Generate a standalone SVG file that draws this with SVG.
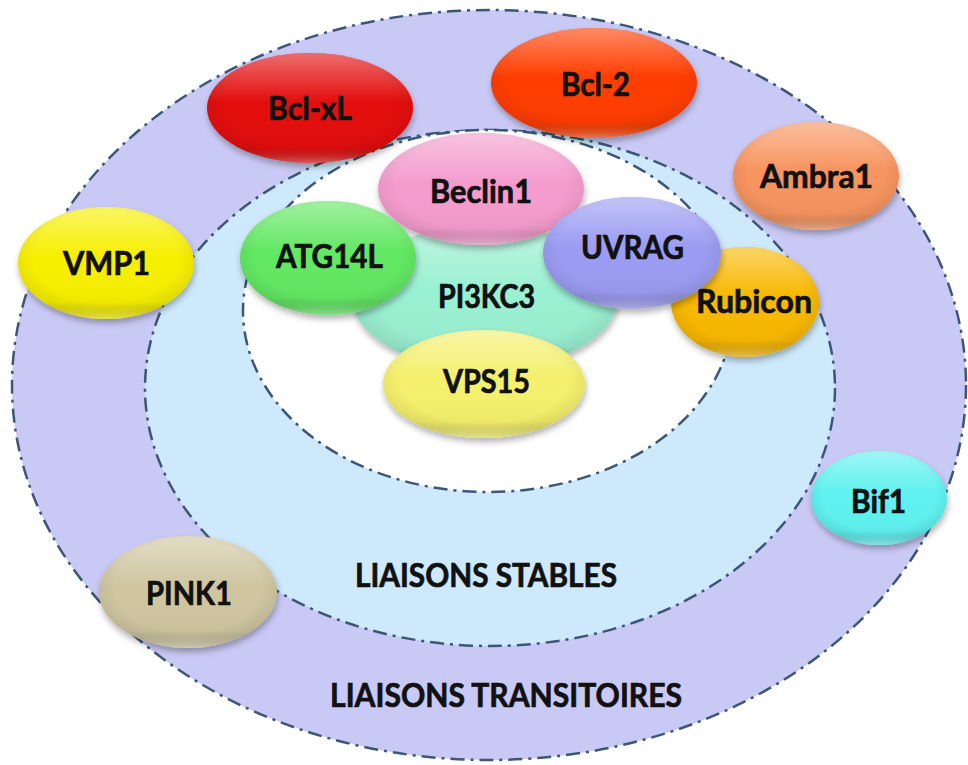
<svg xmlns="http://www.w3.org/2000/svg" width="968" height="765" viewBox="0 0 968 765">
<defs>
<style>
.ring{stroke:#3d5675;stroke-width:2.5;stroke-dasharray:14 6 3 6;}
.lbl{font-family:Lato,Carlito,"Liberation Sans",sans-serif;font-weight:700;font-size:32px;fill:#111;stroke:#111;stroke-width:0.7;text-anchor:middle;}
.zone{font-family:Lato,Carlito,"Liberation Sans",sans-serif;font-weight:700;font-size:32px;fill:#111;stroke:#111;stroke-width:0.7;text-anchor:middle;}
.node{filter:url(#shadow);}
.shine{fill:url(#shine);}
.rim{fill:url(#rim);}
</style>
<filter id="shadow" x="-20%" y="-20%" width="140%" height="150%">
<feDropShadow dx="1" dy="4" stdDeviation="3" flood-color="#000" flood-opacity="0.3"/>
</filter>
<linearGradient id="shine" x1="0" y1="0" x2="0" y2="1">
<stop offset="0" stop-color="#fff" stop-opacity="0.4"/>
<stop offset="0.45" stop-color="#fff" stop-opacity="0"/>
<stop offset="0.85" stop-color="#000" stop-opacity="0.03"/>
<stop offset="1" stop-color="#fff" stop-opacity="0.35"/>
</linearGradient>
<radialGradient id="rim" cx="0.5" cy="0.45" r="0.55">
<stop offset="0.75" stop-color="#000" stop-opacity="0"/>
<stop offset="1" stop-color="#000" stop-opacity="0.08"/>
</radialGradient>
</defs>
<rect width="968" height="765" fill="#fff"/>
<g id="zones">
<ellipse class="ring" cx="489" cy="385" rx="477" ry="375" fill="#c9c9f5"/>
<ellipse class="ring" cx="490" cy="388" rx="345" ry="258" fill="#cde9fb"/>
<ellipse class="ring" cx="488" cy="311" rx="245" ry="181" fill="#fff"/>
<text class="zone" x="486" y="587" textLength="262" lengthAdjust="spacingAndGlyphs">LIAISONS STABLES</text>
<text class="zone" x="506" y="707" textLength="352" lengthAdjust="spacingAndGlyphs">LIAISONS TRANSITOIRES</text>
</g>
<g id="connectors"></g>
<g id="bclxl">
<ellipse class="node" cx="310" cy="108" rx="103" ry="55" fill="#e30a0a"/>
<ellipse class="shine" cx="310" cy="108" rx="103" ry="55"/><ellipse class="rim" cx="310" cy="108" rx="103" ry="55"/>
<text class="lbl" x="310" y="120" textLength="84" lengthAdjust="spacingAndGlyphs">Bcl-xL</text>
</g>
<g id="bcl2">
<ellipse class="node" cx="594" cy="83" rx="103" ry="55" fill="#ff3d00"/>
<ellipse class="shine" cx="594" cy="83" rx="103" ry="55"/><ellipse class="rim" cx="594" cy="83" rx="103" ry="55"/>
<text class="lbl" x="595.5" y="96" textLength="69" lengthAdjust="spacingAndGlyphs">Bcl-2</text>
</g>
<g id="ambra1">
<ellipse class="node" cx="816" cy="176" rx="83" ry="54" fill="#f7945e"/>
<ellipse class="shine" cx="816" cy="176" rx="83" ry="54"/><ellipse class="rim" cx="816" cy="176" rx="83" ry="54"/>
<text class="lbl" x="816.5" y="188" textLength="113" lengthAdjust="spacingAndGlyphs">Ambra1</text>
</g>
<g id="vmp1">
<ellipse class="node" cx="106" cy="263" rx="88" ry="56" fill="#f7ef00"/>
<ellipse class="shine" cx="106" cy="263" rx="88" ry="56"/><ellipse class="rim" cx="106" cy="263" rx="88" ry="56"/>
<text class="lbl" x="106.5" y="275" textLength="87" lengthAdjust="spacingAndGlyphs">VMP1</text>
</g>
<g id="pink1">
<ellipse class="node" cx="188" cy="592" rx="89" ry="56" fill="#cfc6a0"/>
<ellipse class="shine" cx="188" cy="592" rx="89" ry="56"/><ellipse class="rim" cx="188" cy="592" rx="89" ry="56"/>
<text class="lbl" x="189" y="605" textLength="86" lengthAdjust="spacingAndGlyphs">PINK1</text>
</g>
<g id="bif1">
<ellipse class="node" cx="879" cy="498" rx="68" ry="47" fill="#5ff2f0"/>
<ellipse class="shine" cx="879" cy="498" rx="68" ry="47"/><ellipse class="rim" cx="879" cy="498" rx="68" ry="47"/>
<text class="lbl" x="878.5" y="513" textLength="55" lengthAdjust="spacingAndGlyphs">Bif1</text>
</g>
<g id="pi3kc3">
<ellipse class="node" cx="485" cy="297" rx="133" ry="72" fill="#9af0d2"/>
<ellipse class="shine" cx="485" cy="297" rx="133" ry="72"/><ellipse class="rim" cx="485" cy="297" rx="133" ry="72"/>
<text class="lbl" x="486.5" y="308" textLength="97" lengthAdjust="spacingAndGlyphs">PI3KC3</text>
</g>
<g id="beclin1">
<ellipse class="node" cx="481" cy="189" rx="103" ry="56" fill="#f59ccd"/>
<ellipse class="shine" cx="481" cy="189" rx="103" ry="56"/><ellipse class="rim" cx="481" cy="189" rx="103" ry="56"/>
<text class="lbl" x="481" y="203" textLength="102" lengthAdjust="spacingAndGlyphs">Beclin1</text>
</g>
<g id="atg14l">
<ellipse class="node" cx="328" cy="258" rx="88" ry="57" fill="#62e862"/>
<ellipse class="shine" cx="328" cy="258" rx="88" ry="57"/><ellipse class="rim" cx="328" cy="258" rx="88" ry="57"/>
<text class="lbl" x="329.5" y="268" textLength="107" lengthAdjust="spacingAndGlyphs">ATG14L</text>
</g>
<g id="rubicon">
<ellipse class="node" cx="745" cy="302" rx="74" ry="55" fill="#f8b800"/>
<ellipse class="shine" cx="745" cy="302" rx="74" ry="55"/><ellipse class="rim" cx="745" cy="302" rx="74" ry="55"/>
<text class="lbl" x="754" y="313" textLength="116" lengthAdjust="spacingAndGlyphs">Rubicon</text>
</g>
<g id="uvrag">
<ellipse class="node" cx="632" cy="253" rx="89" ry="56" fill="#9b9cf2"/>
<ellipse class="shine" cx="632" cy="253" rx="89" ry="56"/><ellipse class="rim" cx="632" cy="253" rx="89" ry="56"/>
<text class="lbl" x="632.5" y="259" textLength="103" lengthAdjust="spacingAndGlyphs">UVRAG</text>
</g>
<g id="vps15">
<ellipse class="node" cx="484" cy="384" rx="101" ry="54" fill="#f5f06c"/>
<ellipse class="shine" cx="484" cy="384" rx="101" ry="54"/><ellipse class="rim" cx="484" cy="384" rx="101" ry="54"/>
<text class="lbl" x="486.5" y="393" textLength="87" lengthAdjust="spacingAndGlyphs">VPS15</text>
</g>
</svg>
